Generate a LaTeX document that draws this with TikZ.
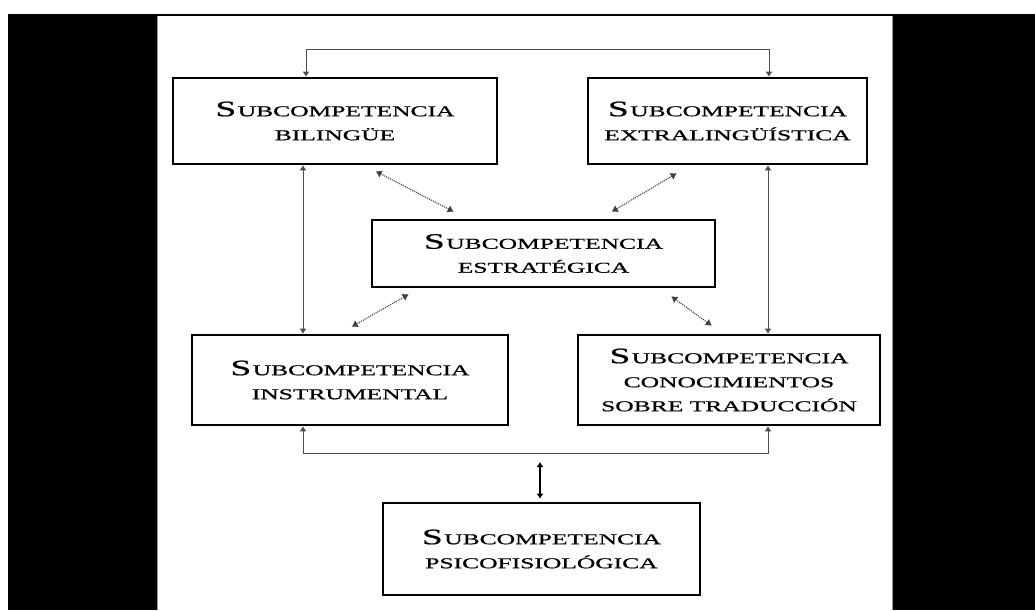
\documentclass[tikz,border=0pt]{standalone}
\usepackage{fontspec}
\usepackage{tikz}
\usetikzlibrary{arrows.meta}
\newfontfamily\boxfont[FakeStretch=1.7,FakeBold=0.8]{Liberation Serif}
\newcommand{\subc}{{\fontsize{22}{24}\selectfont S}\kern1.5pt UBCOMPETENCIA}
\tikzset{
  subbox/.style={draw,line width=2.6pt,align=center,inner sep=0pt,
    font=\boxfont\fontsize{15}{24}\selectfont},
  link/.style={line width=.8pt,black!70},
  dlink/.style={line width=1.1pt,black!75,densely dotted,
    >={Latex[length=6pt,width=8pt]}}
}

\begin{document}
\begin{tikzpicture}[x=1pt,y=-1pt,>={Latex[length=5pt,width=7pt]}]
        \useasboundingbox (0,0) rectangle (1035,610);
        \fill[white] (0,0) rectangle (1035,610);
        \fill[black] (8,14) rectangle (1035,610);
        \fill[white] (158,16) rectangle (892,610);
        \draw[black!40,line width=1pt] (157.5,610) -- (157.5,16.5) (892.5,16.5) -- (892.5,610);
        \node[subbox,minimum width=324,minimum height=86] (bil) at (335,121) {\subc\\BILINGÜE};
        \node[subbox,minimum width=279,minimum height=86] (ext) at (727.5,121) {\subc\\EXTRALINGÜÍSTICA};
        \node[subbox,minimum width=343,minimum height=67] (est) at (543.5,253.5) {\subc\\ESTRATÉGICA};
        \node[subbox,minimum width=316,minimum height=90] (ins) at (350,380) {\subc\\INSTRUMENTAL};
        \node[subbox,minimum width=302,minimum height=90] (con) at (729,380) {\subc\\CONOCIMIENTOS\\SOBRE TRADUCCIÓN};
        \node[subbox,minimum width=317,minimum height=92] (psi) at (541.5,549) {\subc\\PSICOFISIOLÓGICA};
        \coordinate (tl) at (306,49);
        \coordinate (tr) at (769,49);
        \coordinate (lv) at (303,250);
        \coordinate (rv) at (768,250);
        \coordinate (bl) at (303,453);
        \coordinate (br) at (768,453);
        \coordinate (pv) at (540,462);
        \draw[link,<->] (bil.north -| tl) -- (tl) -- (tr) -- (ext.north -| tr);
        \draw[link,<->] (bil.south -| lv) -- (ins.north -| lv);
        \draw[link,<->] (ext.south -| rv) -- (con.north -| rv);
        \draw[link,<->] (ins.south -| bl) -- (bl) -- (br) -- (con.south -| br);
        \draw[link,black,line width=1.2pt,<->] (pv) -- ([yshift=3]psi.north -| pv);
        \draw[dlink,<->] ([shift={(204,6)}]bil.south west) -- ([shift={(83,-7)}]est.north west);
        \draw[dlink,<->] ([shift={(90,8)}]ext.south west) -- ([shift={(241,-7)}]est.north west);
        \draw[dlink,<->] ([shift={(38,6)}]est.south west) -- ([shift={(161,-7)}]ins.north west);
        \draw[dlink,<->] ([shift={(-45,8)}]est.south east) -- ([shift={(135,-8)}]con.north west);
\end{tikzpicture}
\end{document}
